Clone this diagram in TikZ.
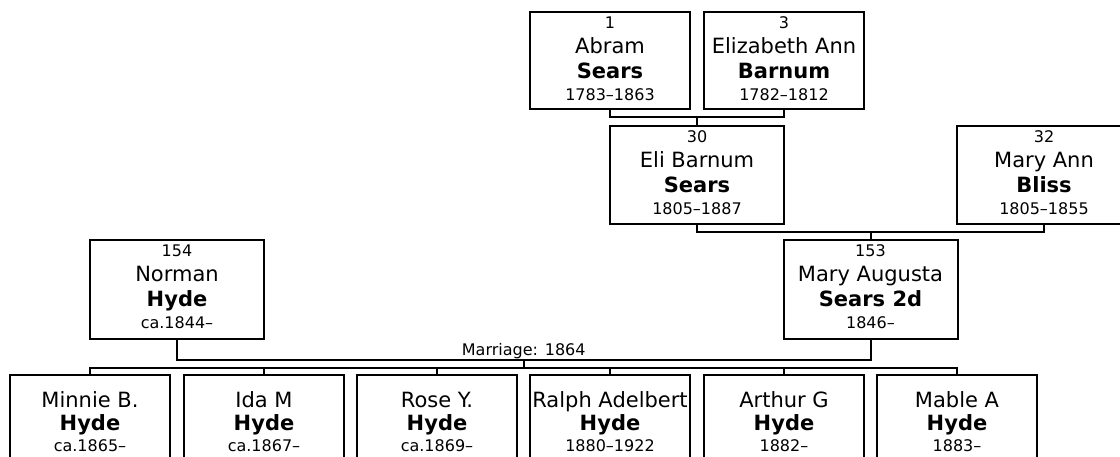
\documentclass[tikz,border=0pt]{standalone}
\usepackage{fontspec}
\setmainfont{DejaVu Sans}
\usetikzlibrary{calc}
\tikzset{
  pbox/.style={draw=black, line width=2pt, fill=white, inner sep=0pt, outer sep=0pt, rectangle},
  conn/.style={draw=black, line width=2pt},
  numtxt/.style={inner sep=0pt, font=\fontsize{16}{19}\selectfont},
  nametxt/.style={inner sep=0pt, font=\fontsize{21}{25}\selectfont},
  surtxt/.style={inner sep=0pt, font=\fontsize{21}{25}\selectfont\bfseries},
}
% \adult{id}{cx}{top}{width}{height}{number}{first}{surname}{dates}
\newcommand{\adult}[9]{%
  \node[pbox, minimum width=#4pt, minimum height=#5pt, anchor=north] (#1) at (#2,#3) {};
  \node[numtxt, anchor=base] (#1-num) at (#2,#3+17) {#6};
  \node[nametxt, anchor=base] (#1-first) at (#2,#3+42) {#7};
  \node[surtxt, anchor=base] (#1-last) at (#2,#3+67) {#8};
  \node[numtxt, anchor=base] (#1-dates) at (#2,#3+88.5) {#9};
}
% \kid{id}{cx}{first}{dates}
\newcommand{\kid}[4]{%
  \node[pbox, minimum width=160pt, minimum height=98pt, anchor=north] (#1) at (#2,375) {};
  \node[nametxt, anchor=base] (#1-first) at (#2,375+32) {#3};
  \node[surtxt, anchor=base] (#1-last) at (#2,375+55) {Hyde};
  \node[numtxt, anchor=base] (#1-dates) at (#2,375+76.5) {#4};
}
\begin{document}
\begin{tikzpicture}[x=1pt,y=-1pt]
\useasboundingbox (0,0) rectangle (1120,457);
\clip (0,0) rectangle (1120,457);

% generation 1
\adult{abram}{610}{12}{160}{97}{1}{Abram}{Sears}{1783–1863}
\adult{eliz}{784}{12}{160}{97}{3}{Elizabeth Ann}{Barnum}{1782–1812}
% generation 2
\adult{eli}{697}{126}{174}{98}{30}{Eli Barnum}{Sears}{1805–1887}
\adult{maryann}{1044}{126}{174}{98}{32}{Mary Ann}{Bliss}{1805–1855}
% generation 3
\adult{maug}{870.5}{240}{174}{99}{153}{Mary Augusta}{Sears 2d}{1846–}
\adult{norman}{177}{240}{174}{99}{154}{Norman}{Hyde}{ca.1844–}
% children
\kid{minnie}{90}{Minnie B.}{ca.1865–}
\kid{ida}{264}{Ida M}{ca.1867–}
\kid{rose}{437}{Rose Y.}{ca.1869–}
\kid{ralph}{610}{Ralph Adelbert}{1880–1922}
\kid{arthur}{784}{Arthur G}{1882–}
\kid{mable}{957}{Mable A}{1883–}

% connectors gen1 -> eli
\draw[conn] (abram.south) -- ++(0,8) -| (eliz.south);
\draw[conn] (eli.north) -- ++(0,-9);
% gen2 -> maug
\draw[conn] (eli.south) -- ++(0,8) -| (maryann.south);
\draw[conn] (maug.north) -- ++(0,-8);
% marriage
\draw[conn] (norman.south) -- ++(0,21) -| (maug.south);
\coordinate (mar) at ($(norman.south)!0.5!(maug.south)+(0,21)$);
\node[numtxt, anchor=base] (mlabel) at ($(mar)+(0,-4.5)$) {Marriage: 1864};
\coordinate (kidbar) at ($(mar)+(0,7.5)$);
\draw[conn] (mar) -- (kidbar);
% children bar
\draw[conn] (minnie.north) -- ++(0,-7.5) -| (mable.north);
\foreach \k in {ida,rose,ralph,arthur}{\draw[conn] (\k.north) -- ++(0,-7.5);}
\end{tikzpicture}
\end{document}
